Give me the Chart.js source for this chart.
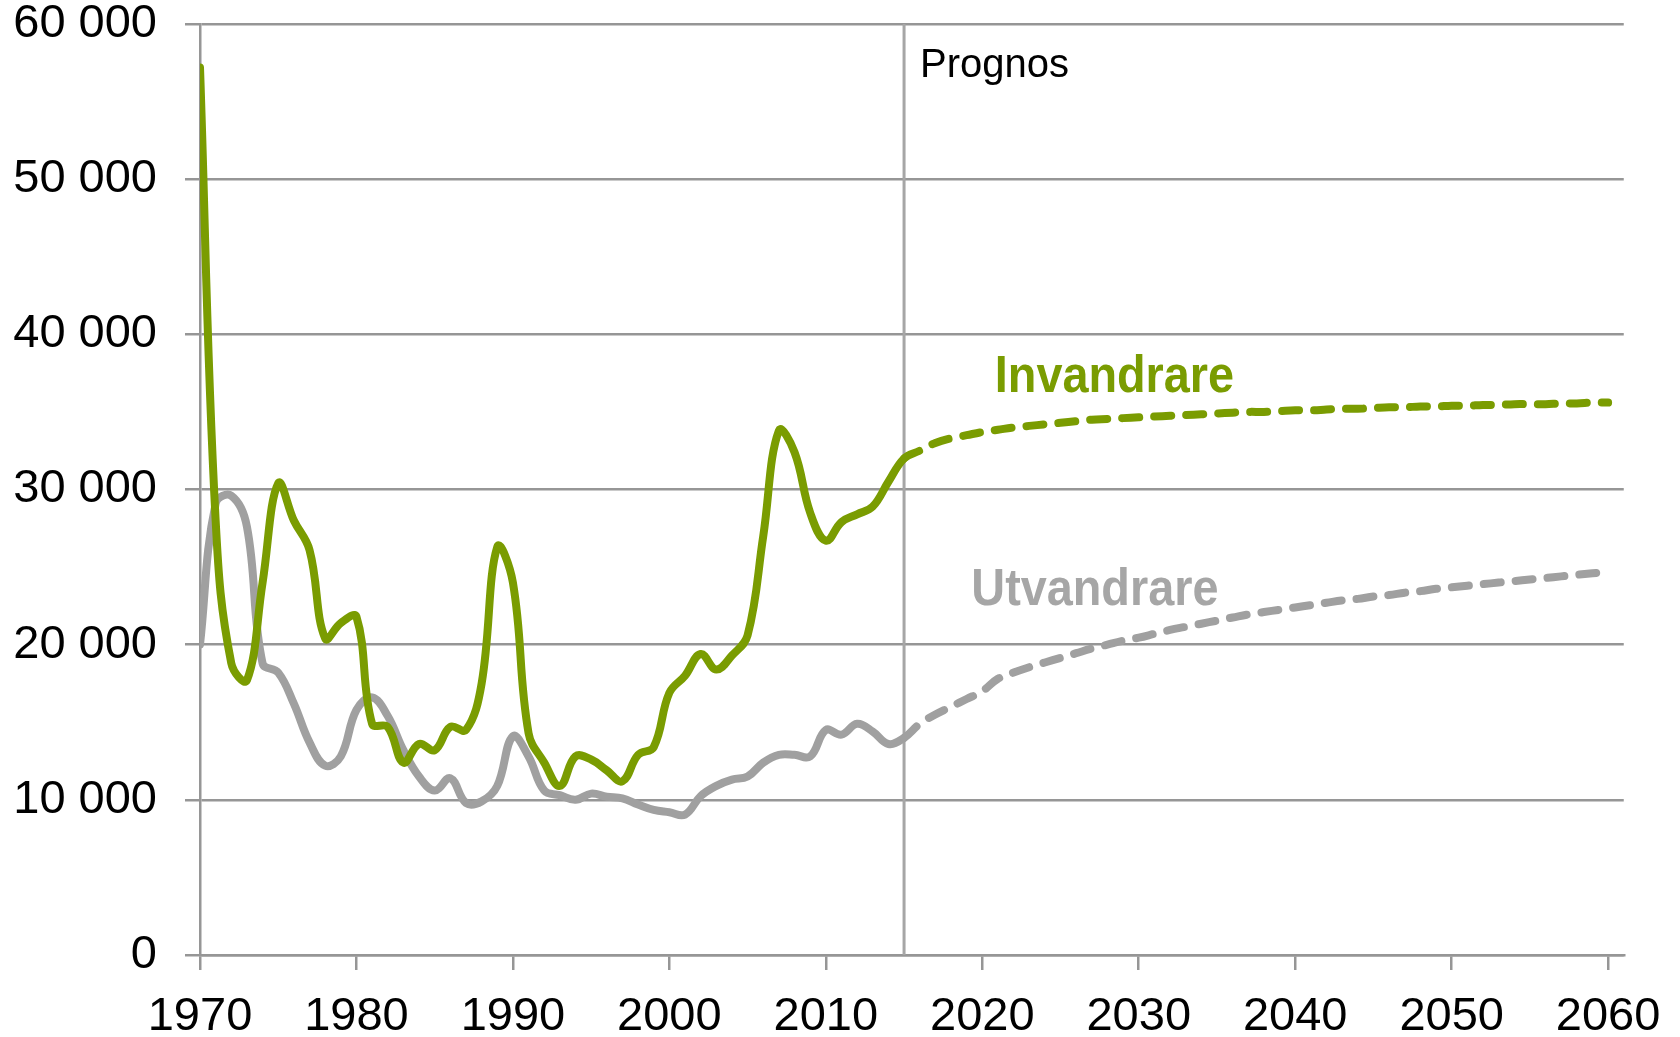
<!DOCTYPE html>
<html>
<head>
<meta charset="utf-8">
<script src="https://cdn.jsdelivr.net/npm/chart.js@4"></script>
<style>
  html, body { margin: 0; padding: 0; background: #fff; }
  .chart-box { width: 1680px; height: 1037px; }
</style>
</head>
<body>
<div class="chart-box"><canvas id="migChart"></canvas></div>
<script>
// DATA
const years = [
  1970, 1971, 1972, 1973, 1974, 1975, 1976, 1977, 1978, 1979,
  1980, 1981, 1982, 1983, 1984, 1985, 1986, 1987, 1988, 1989,
  1990, 1991, 1992, 1993, 1994, 1995, 1996, 1997, 1998, 1999,
  2000, 2001, 2002, 2003, 2004, 2005, 2006, 2007, 2008, 2009,
  2010, 2011, 2012, 2013, 2014, 2015, 2016, 2017, 2018, 2019,
  2020, 2021, 2022, 2023, 2024, 2025, 2026, 2027, 2028, 2029,
  2030, 2031, 2032, 2033, 2034, 2035, 2036, 2037, 2038, 2039,
  2040, 2041, 2042, 2043, 2044, 2045, 2046, 2047, 2048, 2049,
  2050, 2051, 2052, 2053, 2054, 2055, 2056, 2057, 2058, 2059,
  2060
];
const invandrare = [
  57200, 28000, 18800, 17700, 24000, 30400, 28000, 26100, 20400, 21400,
  21800, 14900, 14700, 12400, 13600, 13200, 14700, 14500, 17500, 26300,
  24000, 14300, 12400, 10900, 12800, 12600, 11900, 11200, 12900, 13400,
  16900, 18000, 19400, 18400, 19300, 20600, 27000, 33800, 32400, 28500,
  26700, 27900, 28400, 28900, 30500, 32000, 32500, 33000, 33300, 33500,
  33700, 33850, 34000, 34100, 34200, 34300, 34400, 34500, 34550, 34600,
  34650, 34700, 34750, 34800, 34850, 34900, 34950, 35000, 35000, 35050,
  35100, 35100, 35150, 35200, 35200, 35250, 35300, 35300, 35350, 35350,
  35400, 35400, 35450, 35450, 35500, 35500, 35500, 35550, 35550, 35600,
  35600
];
const utvandrare = [
  20000, 29100, 29600, 27600, 18800, 18200, 16200, 13700, 12200, 12800,
  15800, 16600, 15400, 13200, 11500, 10600, 11400, 9800, 9900, 10900,
  14100, 12800, 10600, 10300, 10000, 10400, 10200, 10100, 9700, 9350,
  9200, 9050, 10240, 10900, 11300, 11500, 12400, 12900, 12900, 12800,
  14500, 14200, 14900, 14400, 13600, 14000, 14900, 15500, 16000, 16500,
  17000, 17800, 18200, 18550, 18850, 19150, 19450, 19750, 20000, 20250,
  20450, 20700, 20950, 21150, 21350, 21550, 21750, 21950, 22100, 22250,
  22400, 22550, 22700, 22850, 22950, 23100, 23200, 23350, 23450, 23600,
  23700, 23800, 23900, 24000, 24100, 24200, 24300, 24400, 24500, 24600,
  24700
];
const tickYears = [1970, 1980, 1990, 2000, 2010, 2020, 2030, 2040, 2050, 2060];
const prognosYear = 2015;
const seriesLabels = ["Invandrare", "Utvandrare"];
// where the series names sit (year, value)
const labelAnchors = [[2020.8, 37200], [2019.3, 23450]];

// STYLE
const green = "#7a9c01";
const grey = "#a0a0a0";
const gridGrey = "#969696";
const fontFamily = "'Liberation Sans', Arial, sans-serif";

const toPoints = vals => years.map((y, i) => ({ x: y, y: vals[i] }));
const dashAfterPrognos = ctx => ctx.p0.parsed.x >= prognosYear ? [17, 15] : undefined;

const lineStyle = color => ({
  borderColor: color,
  borderWidth: 8,
  borderCapStyle: "round",
  borderJoinStyle: "round",
  pointRadius: 0,
  tension: 0.4,
  fill: false,
  segment: { borderDash: dashAfterPrognos }
});

// vertical "Prognos" line + series names
const prognosPlugin = {
  id: "prognos",
  beforeDatasetsDraw(chart) {
    const { ctx, chartArea, scales } = chart;
    const px = scales.x.getPixelForValue(prognosYear);
    ctx.save();
    ctx.strokeStyle = "#a6a6a6";
    ctx.lineWidth = 3;
    ctx.beginPath();
    ctx.moveTo(px, chartArea.top);
    ctx.lineTo(px, chartArea.bottom);
    ctx.stroke();
    ctx.fillStyle = "#000";
    ctx.font = "40px " + fontFamily;
    ctx.textBaseline = "middle";
    ctx.fillText("Prognos", px + 16, chartArea.top + 42);
    ctx.restore();
  },
  afterDatasetsDraw(chart) {
    const { ctx, scales } = chart;
    const colors = [green, "#a6a6a6"];
    ctx.save();
    ctx.font = "bold 52px " + fontFamily;
    ctx.textBaseline = "middle";
    seriesLabels.forEach((txt, i) => {
      const x = scales.x.getPixelForValue(labelAnchors[i][0]);
      const y = scales.y.getPixelForValue(labelAnchors[i][1]);
      ctx.save();
      ctx.translate(x, y);
      ctx.scale(0.9, 1);
      ctx.fillStyle = colors[i];
      ctx.fillText(txt, 0, 0);
      ctx.restore();
    });
    ctx.restore();
  }
};

const chart = new Chart(document.getElementById("migChart"), {
  type: "line",
  data: {
    datasets: [
      Object.assign({ label: seriesLabels[0], data: toPoints(invandrare) }, lineStyle(green)),
      Object.assign({ label: seriesLabels[1], data: toPoints(utvandrare) }, lineStyle(grey))
    ]
  },
  options: {
    responsive: true,
    maintainAspectRatio: false,
    animation: false,
    layout: { padding: { top: 0, right: 55, left: 0, bottom: 0 } },
    plugins: {
      legend: { display: false },
      tooltip: { enabled: false }
    },
    scales: {
      x: {
        type: "linear",
        min: 1970,
        max: 2061,
        afterBuildTicks: s => { s.ticks = tickYears.map(v => ({ value: v })); },
        afterFit: s => { s.height = 82; },
        grid: { drawOnChartArea: false, drawTicks: true, tickLength: 15, color: gridGrey, lineWidth: 2.5 },
        border: { display: true, color: gridGrey, width: 2.5 },
        ticks: {
          padding: 19,
          maxRotation: 0,
          color: "#000",
          font: { family: fontFamily, size: 47 },
          callback: v => String(v)
        }
      },
      y: {
        min: 0,
        max: 60000,
        afterFit: s => { s.width = 200; s.paddingTop = 24; s.paddingBottom = 0; },
        grid: { drawTicks: true, tickLength: 15, color: gridGrey, lineWidth: 2.5 },
        border: { display: true, color: gridGrey, width: 2.5 },
        ticks: {
          stepSize: 10000,
          padding: 28,
          color: "#000",
          font: { family: fontFamily, size: 47, lineHeight: 1 },
          callback: v => v === 0 ? "0" : (v / 1000) + " 000"
        }
      }
    }
  },
  plugins: [prognosPlugin]
});
</script>
</body>
</html>
